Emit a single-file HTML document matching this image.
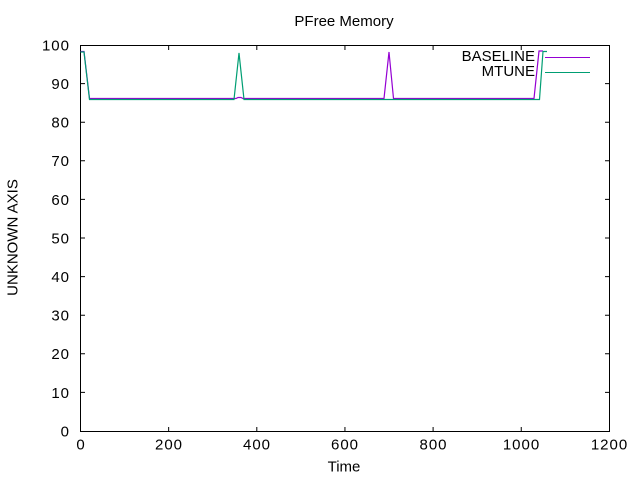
<!DOCTYPE html>
<html><head><meta charset="utf-8"><style>
html,body{margin:0;padding:0;background:#fff;}
svg{display:block;}
text{font-family:"Liberation Sans",sans-serif;font-size:15px;fill:#000;}
.n{letter-spacing:1px;}
</style></head><body>
<svg width="640" height="480" viewBox="0 0 640 480" xmlns="http://www.w3.org/2000/svg">
<rect width="640" height="480" fill="#fff"/>
<g stroke="#000" stroke-width="1" fill="none">
<rect x="80.5" y="45.5" width="529" height="386"/>
<!-- y ticks -->
<path d="M80.5,83.6h4.5M80.5,122.2h4.5M80.5,160.8h4.5M80.5,199.4h4.5M80.5,238h4.5M80.5,276.6h4.5M80.5,315.2h4.5M80.5,353.8h4.5M80.5,392.4h4.5"/>
<path d="M609.5,83.6h-4.5M609.5,122.2h-4.5M609.5,160.8h-4.5M609.5,199.4h-4.5M609.5,238h-4.5M609.5,276.6h-4.5M609.5,315.2h-4.5M609.5,353.8h-4.5M609.5,392.4h-4.5"/>
<!-- x ticks -->
<path d="M168.65,431.5v-4.5M256.8,431.5v-4.5M344.95,431.5v-4.5M433.1,431.5v-4.5M521.25,431.5v-4.5"/>
<path d="M168.65,45.5v4.5M256.8,45.5v4.5M344.95,45.5v4.5M433.1,45.5v4.5M521.25,45.5v4.5"/>
</g>
<!-- y tick labels -->
<g text-anchor="end" class="n">
<text x="70" y="50.5">100</text>
<text x="70" y="89">90</text>
<text x="70" y="127.6">80</text>
<text x="70" y="166.2">70</text>
<text x="70" y="204.8">60</text>
<text x="70" y="243.4">50</text>
<text x="70" y="282">40</text>
<text x="70" y="320.6">30</text>
<text x="70" y="359.2">20</text>
<text x="70" y="397.8">10</text>
<text x="70" y="436.4">0</text>
</g>
<!-- x tick labels -->
<g text-anchor="middle" class="n">
<text x="81" y="449.5">0</text>
<text x="169" y="449.5">200</text>
<text x="257" y="449.5">400</text>
<text x="345" y="449.5">600</text>
<text x="433.5" y="449.5">800</text>
<text x="521.5" y="449.5">1000</text>
<text x="609.5" y="449.5">1200</text>
</g>
<text x="344" y="26" text-anchor="middle">PFree Memory</text>
<text x="344" y="471.5" text-anchor="middle">Time</text>
<text transform="translate(17.5,237.5) rotate(-90)" text-anchor="middle">UNKNOWN AXIS</text>
<!-- legend -->
<text x="535" y="61" text-anchor="end">BASELINE</text>
<text x="535" y="76" text-anchor="end">MTUNE</text>
<line x1="545" y1="57.5" x2="590" y2="57.5" stroke="#9400d3" stroke-width="1"/>
<line x1="545" y1="72.5" x2="590" y2="72.5" stroke="#009e73" stroke-width="1"/>
<!-- series -->
<polyline fill="none" stroke="#9400d3" stroke-width="1.2" points="80.5,51.5 84,51.5 89.5,98.5 236,98.5 238,97.5 241,97.5 243,98.5 384,98.5 389,52 393.5,98.5 534,98.5 539,51 543,51"/>
<polyline fill="none" stroke="#009e73" stroke-width="1.2" points="80.5,52 84,52 89.5,99.5 234,99.5 239,53 244,99.5 539.5,99.5 543,51.5 547,51.5"/>
</svg>
</body></html>
